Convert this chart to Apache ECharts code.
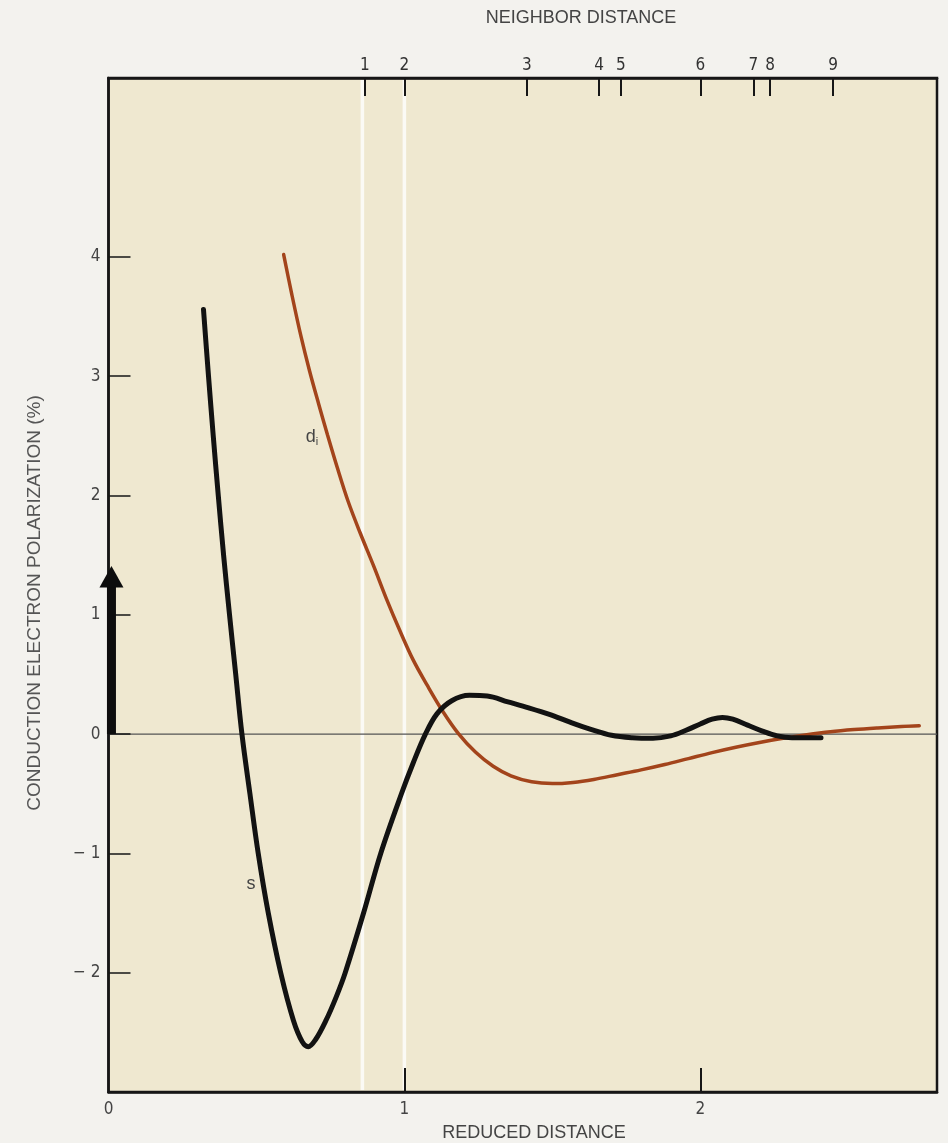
<!DOCTYPE html>
<html><head><meta charset="utf-8">
<script src="https://cdn.jsdelivr.net/npm/echarts@6/dist/echarts.min.js"></script>
<style>html,body{margin:0;padding:0;background:#f3f2ee;}#c{width:948px;height:1143px;}</style>
</head><body><div id="c"></div>
<script>
// s-type conduction electron polarization
const sCurve = [[0.321,3.56],[0.338,3.0],[0.354,2.5],[0.371,2.0],[0.389,1.5],[0.409,1.0],[0.430,0.5],[0.451,0.0],[0.478,-0.5],[0.506,-1.0],[0.540,-1.5],[0.582,-2.0],[0.625,-2.4],[0.655,-2.58],[0.675,-2.62],[0.70,-2.56],[0.735,-2.4],[0.77,-2.2],[0.80,-2.0],[0.862,-1.5],[0.92,-1.0],[0.99,-0.5],[1.03,-0.24],[1.071,0.0],[1.11,0.17],[1.16,0.28],[1.22,0.325],[1.28,0.32],[1.35,0.27],[1.42,0.22],[1.49,0.165],[1.56,0.10],[1.63,0.04],[1.70,-0.01],[1.77,-0.03],[1.84,-0.035],[1.90,-0.015],[1.95,0.03],[2.00,0.085],[2.04,0.125],[2.075,0.14],[2.11,0.125],[2.16,0.075],[2.21,0.025],[2.26,-0.015],[2.31,-0.03],[2.36,-0.03],[2.408,-0.03]];
// d_i-type polarization
const dCurve = [[0.592,4.02],[0.62,3.68],[0.65,3.34],[0.68,3.04],[0.71,2.77],[0.74,2.51],[0.775,2.22],[0.81,1.95],[0.85,1.69],[0.896,1.41],[0.94,1.13],[0.986,0.86],[1.03,0.62],[1.077,0.41],[1.13,0.19],[1.184,0.0],[1.24,-0.15],[1.30,-0.27],[1.36,-0.35],[1.43,-0.40],[1.50,-0.415],[1.57,-0.405],[1.64,-0.38],[1.72,-0.34],[1.80,-0.30],[1.88,-0.255],[1.96,-0.205],[2.04,-0.155],[2.12,-0.11],[2.20,-0.07],[2.28,-0.035],[2.36,-0.005],[2.44,0.02],[2.52,0.038],[2.60,0.052],[2.68,0.064],[2.74,0.07]];
// neighbor shells (top axis)
const neighborPos = [0.866,1.0,1.414,1.658,1.732,2.0,2.179,2.236,2.449];
const neighborLabels = ['1','2','3','4','5','6','7','8','9'];
const xTickLabels = [0,1,2];
const xTickMarks = [1,2];
const yTicks = [-2,-1,0,1,2,3,4];
const whiteLines = [0.858,1.0];
const zeroLine = [0];
const arrow = [[0.01,0,1.23,1.41]]; // x, base, head start, tip

const NARROW = '"Liberation Sans Narrow","DejaVu Sans Condensed","Liberation Sans",sans-serif';
const SANS = '"Liberation Sans",Arial,sans-serif';
const XMIN = 0, XMAX = 2.8, YMIN = -3, YMAX = 5.5;

const chart = echarts.init(document.getElementById('c'), null, {renderer:'canvas'});
chart.setOption({
  backgroundColor:'#f3f2ee',
  animation:false,
  grid:{left:108.5,right:11,top:78,bottom:51,show:true,backgroundColor:'#efe8d0',borderColor:'#161616',borderWidth:2.5},
  xAxis:[{
    type:'value',position:'bottom',min:XMIN,max:XMAX,interval:1,z:5,
    axisLine:{show:true,onZero:false,lineStyle:{color:'#161616',width:2.5}},
    axisTick:{show:true,inside:true,length:24,customValues:xTickMarks,lineStyle:{color:'#161616',width:2}},
    axisLabel:{show:true,customValues:xTickLabels,margin:9,fontSize:17,color:'#444',fontFamily:NARROW,
      formatter:v=>String(v)},
    splitLine:{show:false}
  },{
    type:'value',position:'top',min:XMIN,max:XMAX,z:5,
    axisLine:{show:true,onZero:false,lineStyle:{color:'#161616',width:2.5}},
    axisTick:{show:true,inside:true,length:18,customValues:neighborPos,lineStyle:{color:'#161616',width:2}},
    axisLabel:{show:true,customValues:neighborPos,margin:4,fontSize:17,color:'#333',fontFamily:NARROW,
      formatter:v=>{const i=neighborPos.findIndex(p=>Math.abs(p-v)<1e-6);return i>=0?neighborLabels[i]:'';}},
    splitLine:{show:false}
  }],
  yAxis:{
    type:'value',min:YMIN,max:YMAX,interval:1,z:5,
    axisLine:{show:true,onZero:false,lineStyle:{color:'#161616',width:2.5}},
    axisTick:{show:true,inside:true,length:22,customValues:yTicks,lineStyle:{color:'#161616',width:1.5}},
    axisLabel:{show:true,customValues:yTicks,margin:8,fontSize:17,color:'#444',fontFamily:NARROW,
      formatter:v=>v<0?('\u2212 '+Math.abs(v)):String(v)},
    splitLine:{show:false}
  },
  graphic:[
    {type:'text',style:{text:'NEIGHBOR DISTANCE',x:581,y:18,align:'center',verticalAlign:'middle',font:'18px '+SANS,fill:'#444'}},
    {type:'text',style:{text:'REDUCED DISTANCE',x:534,y:1133,align:'center',verticalAlign:'middle',font:'18px '+SANS,fill:'#444'}},
    {type:'text',x:35,y:603,rotation:Math.PI/2,style:{text:'CONDUCTION ELECTRON POLARIZATION (%)',x:0,y:0,align:'center',verticalAlign:'middle',font:'19px '+SANS,fill:'#555'}},
    {type:'text',style:{text:'{a|d}{b|i}',x:312,y:437,align:'center',verticalAlign:'middle',rich:{a:{font:'18px '+SANS,fill:'#444'},b:{font:'11px '+SANS,fill:'#444',padding:[9,0,0,0]}}}},
    {type:'text',style:{text:'s',x:251,y:884,align:'center',verticalAlign:'middle',font:'18px '+SANS,fill:'#444'}}
  ],
  series:[
    {type:'custom',z:1,silent:true,data:whiteLines.map(x=>[x]),
      renderItem:(p,api)=>{const a=api.coord([api.value(0),YMIN]);const b=api.coord([api.value(0),YMAX]);
        return {type:'line',shape:{x1:a[0],y1:a[1]-2,x2:b[0],y2:b[1]+2},style:{stroke:'#fbfaf5',lineWidth:3.5}};}},
    {type:'custom',z:2,silent:true,data:zeroLine.map(y=>[y]),
      renderItem:(p,api)=>{const a=api.coord([XMIN,api.value(0)]);const b=api.coord([XMAX,api.value(0)]);
        return {type:'line',shape:{x1:a[0],y1:a[1],x2:b[0],y2:b[1]},style:{stroke:'#555',lineWidth:1.3}};}},
    {type:'line',name:'d',z:3,data:dCurve,smooth:0.35,showSymbol:false,symbol:'none',
      lineStyle:{color:'#a3441b',width:3.5,cap:'round'}},
    {type:'line',name:'s',z:4,data:sCurve,smooth:0.35,showSymbol:false,symbol:'none',
      lineStyle:{color:'#121212',width:5,cap:'round',join:'round'}},
    {type:'custom',z:10,silent:true,data:arrow,
      renderItem:(p,api)=>{const x=api.value(0);const b=api.coord([x,api.value(1)]);const h=api.coord([x,api.value(2)]);const t=api.coord([x,api.value(3)]);
        return {type:'group',children:[
          {type:'rect',shape:{x:b[0]-4.5,y:h[1]-1,width:9,height:b[1]-h[1]+1},style:{fill:'#0d0d0d'}},
          {type:'polygon',shape:{points:[[t[0],t[1]],[t[0]-12,h[1]],[t[0]+12,h[1]]]},style:{fill:'#0d0d0d'}}
        ]};}}
  ]
});
</script></body></html>
